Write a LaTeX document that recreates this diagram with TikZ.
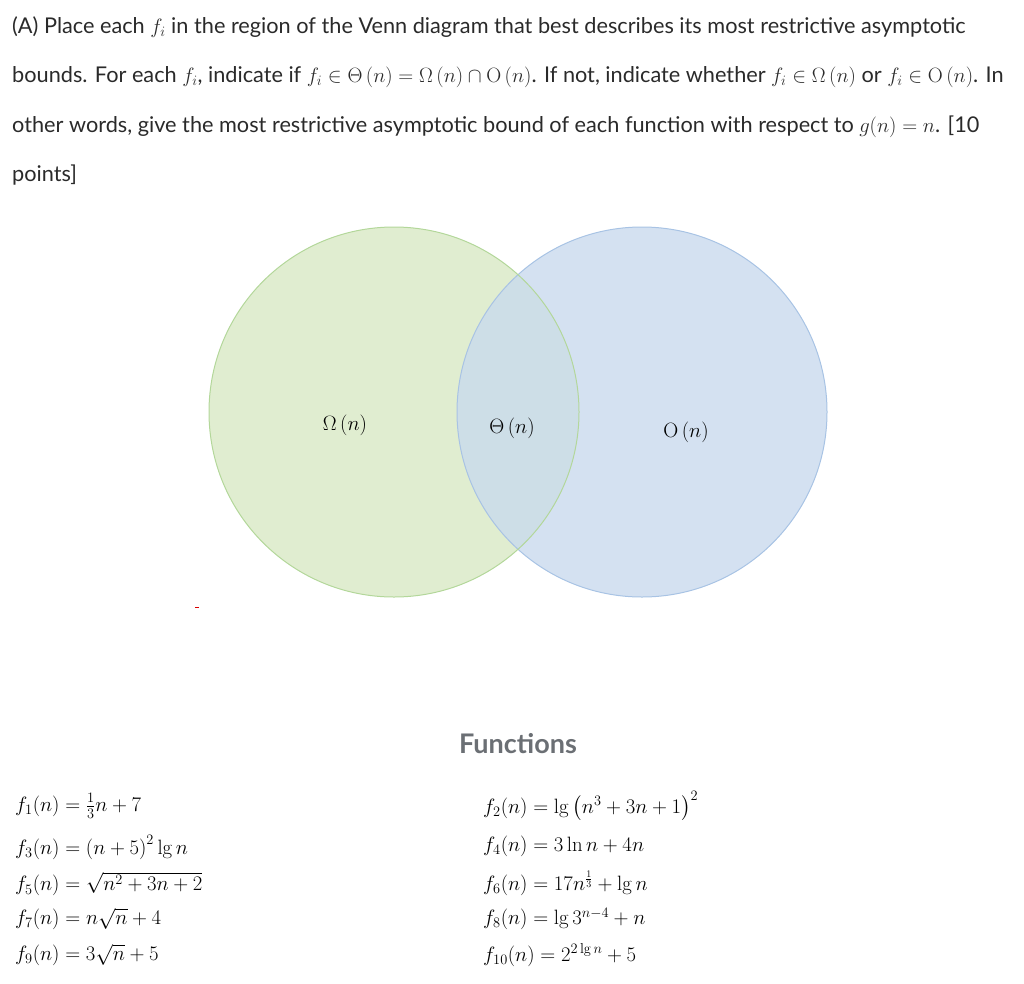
\documentclass[tikz,border=0pt]{standalone}
\usepackage{amsmath}
\usepackage[no-math]{fontspec}
\setmainfont{Lato}
\definecolor{gfill}{HTML}{DDEBCB}
\definecolor{gline}{HTML}{B3D79A}
\definecolor{bfill}{HTML}{C9DAEE}
\definecolor{bline}{HTML}{A8C3E4}
\definecolor{txt}{HTML}{2A2A2A}
\definecolor{head}{HTML}{6B6F74}
\begin{document}
\begin{tikzpicture}[x=1pt,y=-1pt,
  hdr/.style={anchor=west,inner sep=0pt,font=\fontsize{21.7}{24}\selectfont,text=txt},
  fn/.style={anchor=west,inner sep=0pt,font=\fontsize{19.5}{22}\selectfont},
  lbl/.style={inner sep=0pt,font=\fontsize{22}{24}\selectfont}]
\useasboundingbox (0,0) rectangle (1024,983);
\node[hdr] (h1) at (12,27) {(A) Place each $f_i$ in the region of the Venn diagram that best describes its most restrictive asymptotic};
\node[hdr] (h2) at (12,77) {bounds. For each $f_i$, indicate if $f_i\in\Theta\,(n)=\Omega\,(n)\cap\mathrm{O}\,(n)$. If not, indicate whether $f_i\in\Omega\,(n)$ or $f_i\in\mathrm{O}\,(n)$. In};
\node[hdr] (h3) at (12,127) {other words, give the most restrictive asymptotic bound of each function with respect to $g(n)=n$. [10};
\node[hdr] (h4) at (12,175) {points]};
\fill[gfill,opacity=0.9] (394,412) circle (185);
\fill[bfill,opacity=0.8] (642,412) circle (185);
\draw[bline,line width=1pt] (642,412) circle (185);
\draw[gline,line width=1pt] (394,412) circle (185);
\node[lbl] (om) at (345,425) {$\Omega\,(n)$};
\node[lbl] (th) at (512,428) {$\Theta\,(n)$};
\node[lbl] (bo) at (686,432) {$\mathrm{O}\,(n)$};
\draw[red!85!black,line width=1pt] (195,607) -- (199,607);
\node[inner sep=0pt,font=\fontsize{27}{30}\selectfont\bfseries,text=head] (ft) at (518,744) {Functions};
\node[fn] (f1) at (15,806) {$f_1(n)=\frac{1}{3}n+7$};
\node[fn] (f3) at (15,847) {$f_3(n)=\left(n+5\right)^2\lg n$};
\node[fn] (f5) at (15,884) {$f_5(n)=\sqrt{n^2+3n+2}$};
\node[fn] (f7) at (15,919) {$f_7(n)=n\sqrt{n}+4$};
\node[fn] (f9) at (15,955) {$f_9(n)=3\sqrt{n}+5$};
\node[fn] (f2) at (483,806) {$f_2(n)=\lg\left(n^3+3n+1\right)^2$};
\node[fn] (f4) at (483,846) {$f_4(n)=3\ln n+4n$};
\node[fn] (f6) at (483,883) {$f_6(n)=17n^{\frac{1}{3}}+\lg n$};
\node[fn] (f8) at (483,919) {$f_8(n)=\lg 3^{n-4}+n$};
\node[fn] (f10) at (483,955) {$f_{10}(n)=2^{2\lg n}+5$};
\end{tikzpicture}
\end{document}
